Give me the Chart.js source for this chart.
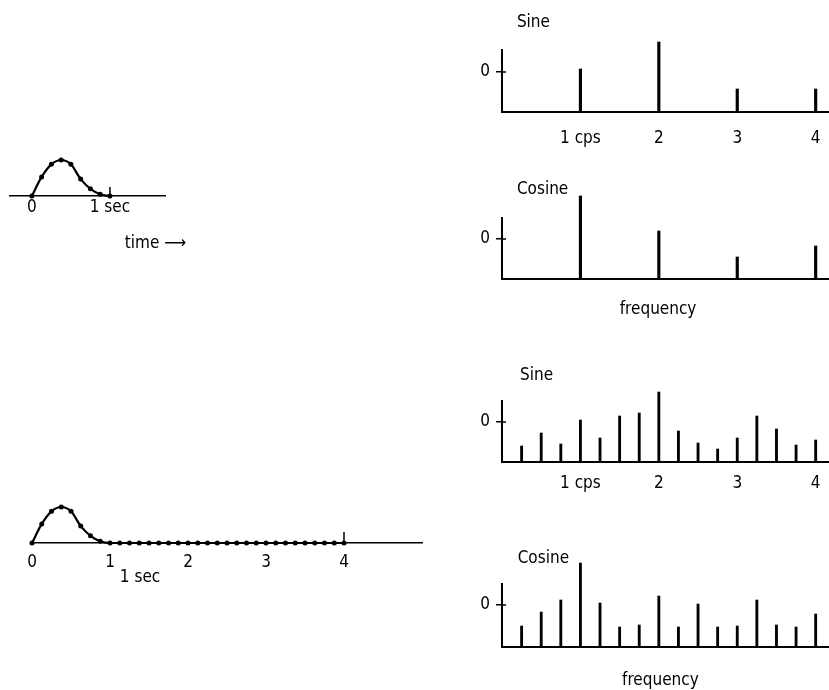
<!DOCTYPE html>
<html>
<head>
<meta charset="utf-8">
<script src="https://cdn.jsdelivr.net/npm/chart.js@4.4.1/dist/chart.umd.min.js"></script>
<style>
  body { margin: 0; background: #fff; width: 829px; height: 690px; position: relative; overflow: hidden; }
  canvas { position: absolute; }
</style>
</head>
<body>
<canvas id="pulse-short" width="220" height="146" style="left:0;top:110px"></canvas>
<canvas id="pulse-long" width="440" height="123" style="left:0;top:470px"></canvas>
<canvas id="sine-coarse" width="389" height="152" style="left:440px;top:0"></canvas>
<canvas id="cosine-coarse" width="389" height="169" style="left:440px;top:160px"></canvas>
<canvas id="sine-fine" width="389" height="152" style="left:440px;top:350px"></canvas>
<canvas id="cosine-fine" width="389" height="180" style="left:440px;top:510px"></canvas>
<script>
//  Data.
//  Pulse samples, every 1/8 sec (heights relative to the peak).
const pulseTimes = [0, 0.125, 0.25, 0.375, 0.5, 0.625, 0.75, 0.875, 1];
const pulseValues = [0, 0.53, 0.88, 1.0, 0.88, 0.47, 0.2, 0.05, 0];

//  Same pulse padded with zeros out to 4 sec.
const longTimes = [0, 0.125, 0.25, 0.375, 0.5, 0.625, 0.75, 0.875, 1,
    1.125, 1.25, 1.375, 1.5, 1.625, 1.75, 1.875, 2,
    2.125, 2.25, 2.375, 2.5, 2.625, 2.75, 2.875, 3,
    3.125, 3.25, 3.375, 3.5, 3.625, 3.75, 3.875, 4];
const longValues = [0, 0.53, 0.88, 1.0, 0.88, 0.47, 0.2, 0.05, 0,
    0, 0, 0, 0, 0, 0, 0, 0,
    0, 0, 0, 0, 0, 0, 0, 0,
    0, 0, 0, 0, 0, 0, 0, 0];

//  Spectrum of the 1 sec pulse (harmonics of 1 cps), amplitudes about the zero line.
const freqCoarse = [1, 2, 3, 4];
const sineCoarse = [3, 30, -17, -17];
const cosineCoarse = [43, 8, -18, -7];

//  Spectrum of the 4 sec record (harmonics of 1/4 cps).
const freqFine = [0.25, 0.5, 0.75, 1, 1.25, 1.5, 1.75, 2, 2.25, 2.5, 2.75, 3, 3.25, 3.5, 3.75, 4];
const sineFine = [-24, -11, -22, 2, -16, 6, 9, 30, -9, -21, -27, -16, 6, -7, -23, -18];
const cosineFine = [-21, -7, 5, 42, 2, -22, -20, 9, -22, 1, -22, -21, 5, -20, -22, -9];

//  Tick labels
const freqTickValues = [1, 2, 3, 4];
const freqTickLabels = ['1 cps', '2', '3', '4'];
const shortTickValues = [0, 1];
const shortTickLabels = ['0', '1 sec'];
const longTickValues = [0, 1, 2, 3, 4];
const longTickLabels = ['0', '1', '2', '3', '4'];

const FONT = "'DejaVu Sans Condensed', 'Liberation Sans Narrow', 'DejaVu Sans', sans-serif";
const tickFont = { family: FONT, size: 17 };

//  Free text placed in data units of the chart it belongs to.
const figureText = {
    id: 'figureText',
    afterDraw(chart, args, opts) {
        if (!opts || !opts.items) return;
        const ctx = chart.ctx;
        const x = chart.scales.x, y = chart.scales.y;
        ctx.save();
        ctx.fillStyle = '#000';
        ctx.font = '17px ' + FONT;
        ctx.textBaseline = 'middle';
        opts.items.forEach(it => {
            ctx.textAlign = it.align || 'left';
            ctx.fillText(it.text, x.getPixelForValue(it.x), y.getPixelForValue(it.y));
        });
        ctx.restore();
    }
};

//  Small upward tick marking the end of the record.
const periodMark = {
    id: 'periodMark',
    afterDatasetsDraw(chart, args, opts) {
        if (!opts || opts.at == null) return;
        const ctx = chart.ctx;
        const px = chart.scales.x.getPixelForValue(opts.at);
        const base = chart.chartArea.bottom;
        ctx.save();
        ctx.strokeStyle = '#000';
        ctx.lineWidth = 1.5;
        ctx.beginPath();
        ctx.moveTo(px, base);
        ctx.lineTo(px, base - opts.length);
        ctx.stroke();
        ctx.restore();
    }
};

//  The zero tick crosses the amplitude axis (Chart.js only draws the outer half).
const zeroCross = {
    id: 'zeroCross',
    afterDraw(chart, args, opts) {
        if (!opts || !opts.length) return;
        const ctx = chart.ctx;
        const py = chart.scales.y.getPixelForValue(0);
        const left = chart.chartArea.left;
        ctx.save();
        ctx.strokeStyle = '#000';
        ctx.lineWidth = 1.5;
        ctx.beginPath();
        ctx.moveTo(left, py);
        ctx.lineTo(left + opts.length, py);
        ctx.stroke();
        ctx.restore();
    }
};
Chart.register(figureText, periodMark, zeroCross);

//  One spectrum panel: bars stand on the bottom line, the "0" tick marks zero amplitude.
function spectrum_chart(id, freqs, values, cfg) {
    new Chart(document.getElementById(id), {
        type: 'bar',
        data: {
            datasets: [{
                data: freqs.map((f, i) => ({ x: f, y: values[i] })),
                base: cfg.min,
                backgroundColor: '#000',
                barThickness: cfg.bar,
                grouped: false,
                clip: false
            }]
        },
        options: {
            responsive: false,
            animation: false,
            layout: { padding: { top: cfg.padTop, left: 0, right: 0, bottom: 0 } },
            plugins: {
                legend: { display: false },
                tooltip: { enabled: false },
                figureText: { items: cfg.texts },
                zeroCross: { length: 4 }
            },
            scales: {
                x: {
                    type: 'linear', min: 0, max: 4.17, offset: false,
                    grid: { display: false, drawTicks: false },
                    border: { color: '#000', width: 2 },
                    afterBuildTicks: s => { s.ticks = freqTickValues.map(v => ({ value: v })); },
                    ticks: {
                        display: cfg.showLabels, autoSkip: false, maxRotation: 0,
                        padding: cfg.labelPad, color: '#000', font: tickFont,
                        callback: v => freqTickLabels[freqTickValues.indexOf(v)]
                    },
                    afterFit: s => { s.height = cfg.axisH; s.paddingLeft = 0; s.paddingRight = 0; }
                },
                y: {
                    min: cfg.min, max: cfg.max,
                    grid: { drawOnChartArea: false, drawTicks: true, tickLength: 6, color: '#000', lineWidth: 1.5 },
                    border: { color: '#000', width: 2 },
                    afterBuildTicks: s => { s.ticks = [{ value: 0 }]; },
                    ticks: { padding: 6, color: '#000', font: tickFont, callback: () => '0' },
                    afterFit: s => { s.width = 62; s.paddingTop = 0; s.paddingBottom = 0; }
                }
            }
        }
    });
}

//  Time-domain panel: sampled pulse drawn as a smooth curve with dots.
function pulse_chart(id, times, values, cfg) {
    new Chart(document.getElementById(id), {
        type: 'line',
        data: {
            datasets: [{
                data: times.map((t, i) => ({ x: t, y: values[i] })),
                borderColor: '#000',
                borderWidth: 2.2,
                pointRadius: 2.5,
                pointBorderWidth: 0,
                pointBackgroundColor: '#000',
                cubicInterpolationMode: 'monotone',
                clip: false
            }]
        },
        options: {
            responsive: false,
            animation: false,
            layout: { padding: { top: cfg.padTop, left: cfg.padLeft, right: cfg.padRight, bottom: 0 } },
            plugins: {
                legend: { display: false },
                tooltip: { enabled: false },
                figureText: { items: cfg.texts },
                periodMark: { at: cfg.period, length: cfg.markLen }
            },
            scales: {
                x: {
                    type: 'linear', min: cfg.xMin, max: cfg.xMax,
                    grid: { display: false, drawTicks: false },
                    border: { color: '#000', width: 1.5 },
                    afterBuildTicks: s => { s.ticks = cfg.tickValues.map(v => ({ value: v })); },
                    ticks: {
                        autoSkip: false, maxRotation: 0, padding: cfg.labelPad,
                        color: '#000', font: tickFont,
                        callback: v => cfg.tickLabels[cfg.tickValues.indexOf(v)]
                    },
                    afterFit: s => { s.height = cfg.axisH; s.paddingLeft = 0; s.paddingRight = 0; }
                },
                y: { display: false, min: 0, max: 1 }
            }
        }
    });
}

pulse_chart('pulse-short', pulseTimes, pulseValues, {
    padTop: 50, padLeft: 10, padRight: 55, axisH: 60, labelPad: 1,
    xMin: -0.28, xMax: 1.705, period: 1, markLen: 9,
    tickValues: shortTickValues, tickLabels: shortTickLabels,
    texts: [{ text: 'time \u27F6', x: 1.19, y: -1.31 }]
});

pulse_chart('pulse-long', longTimes, longValues, {
    padTop: 37, padLeft: 32, padRight: 18, axisH: 50, labelPad: 9,
    xMin: 0, xMax: 5, period: 4, markLen: 11,
    tickValues: longTickValues, tickLabels: longTickLabels,
    texts: [{ text: '1 sec', x: 1.385, y: -0.97, align: 'center' }]
});

spectrum_chart('sine-coarse', freqCoarse, sineCoarse, {
    padTop: 50, min: -40, max: 22, axisH: 40, labelPad: 16, bar: 2.5, showLabels: true,
    texts: [{ text: 'Sine', x: 0.19, y: 49 }]
});

spectrum_chart('cosine-coarse', freqCoarse, cosineCoarse, {
    padTop: 58, min: -40, max: 21, axisH: 50, labelPad: 16, bar: 2.5, showLabels: false,
    texts: [{ text: 'Cosine', x: 0.19, y: 49 }, { text: 'frequency', x: 1.99, y: -71, align: 'center' }]
});

spectrum_chart('sine-fine', freqFine, sineFine, {
    padTop: 51, min: -40, max: 21, axisH: 40, labelPad: 11, bar: 2.2, showLabels: true,
    texts: [{ text: 'Sine', x: 0.23, y: 46 }]
});

spectrum_chart('cosine-fine', freqFine, cosineFine, {
    padTop: 74, min: -42, max: 21, axisH: 43, labelPad: 16, bar: 2.2, showLabels: false,
    texts: [{ text: 'Cosine', x: 0.2, y: 46 }, { text: 'frequency', x: 2.02, y: -76, align: 'center' }]
});
</script>
</body>
</html>
